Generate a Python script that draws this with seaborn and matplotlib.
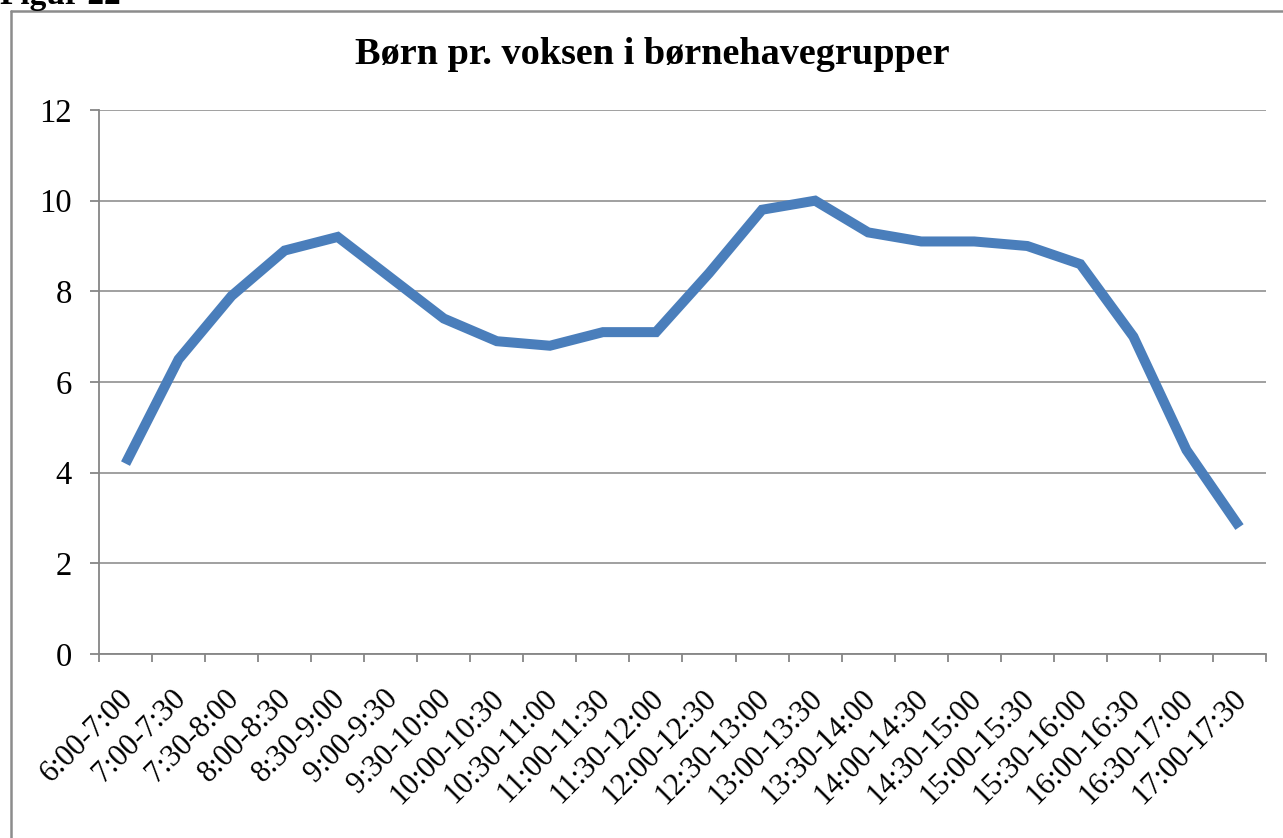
import matplotlib
matplotlib.use("Agg")
import matplotlib.pyplot as plt
import matplotlib.transforms as mtransforms
from matplotlib.lines import Line2D
import numpy as np
import pandas as pd
import seaborn as sns

slots = ["6:00-7:00", "7:00-7:30", "7:30-8:00", "8:00-8:30", "8:30-9:00", "9:00-9:30",
         "9:30-10:00", "10:00-10:30", "10:30-11:00", "11:00-11:30", "11:30-12:00",
         "12:00-12:30", "12:30-13:00", "13:00-13:30", "13:30-14:00", "14:00-14:30",
         "14:30-15:00", "15:00-15:30", "15:30-16:00", "16:00-16:30", "16:30-17:00",
         "17:00-17:30"]
children_per_adult = [4.2, 6.5, 7.9, 8.9, 9.2, 8.3, 7.4, 6.9, 6.8, 7.1, 7.1,
                      8.4, 9.8, 10.0, 9.3, 9.1, 9.1, 9.0, 8.6, 7.0, 4.5, 2.8]
y_ticks = [0, 2, 4, 6, 8, 10, 12]

sns.set_theme(style="white", rc={"text.color": "black", "xtick.color": "black",
                                 "ytick.color": "black"})
plt.rcParams["font.family"] = ["Liberation Serif", "DejaVu Serif"]

W, H = 1283, 838
fig = plt.figure(figsize=(W / 100, H / 100), dpi=100)
fig.patch.set_facecolor("white")
ax = fig.add_axes([99 / W, 1 - 654 / H, (1266 - 99) / W, (654 - 110) / H])

frame = pd.DataFrame({"pos": np.arange(len(slots)), "value": children_per_adult})
sns.lineplot(data=frame, x="pos", y="value", ax=ax, color="#4A7EBB", linewidth=7.2,
             solid_joinstyle="miter", solid_capstyle="butt", sort=False)

grey = "#868686"
ax.set_xlim(-0.5, len(slots) - 0.5)
ax.set_ylim(0, 12)
ax.set_yticks(y_ticks)
ax.yaxis.grid(True, color=grey, linewidth=1.1)
ax.set_axisbelow(True)
for side in ("top", "right"):
    ax.spines[side].set_visible(False)
for side in ("left", "bottom"):
    ax.spines[side].set_color(grey)
    ax.spines[side].set_linewidth(1.3)

ax.set_xticks(np.arange(len(slots) + 1) - 0.5)
ax.set_xticklabels([])
ax.set_xticks(np.arange(len(slots)), minor=True)
ax.set_xticklabels(slots, minor=True, rotation=45, ha="right", va="center",
                   rotation_mode="anchor", fontsize=22)
ax.tick_params(axis="x", which="major", direction="out", length=6, color=grey, width=1.3, bottom=True)
ax.tick_params(axis="x", which="minor", length=0, pad=29, bottom=True)
ax.tick_params(axis="y", direction="out", length=6.5, color=grey, width=1.3, pad=13,
               labelsize=23.5, left=True)
shift = mtransforms.ScaledTranslation(3 / 100, 0, fig.dpi_scale_trans)
for lab in ax.get_xticklabels(minor=True):
    lab.set_transform(lab.get_transform() + shift)
ax.set_xlabel("")
ax.set_ylabel("")

fig.text(652 / W, 1 - 55 / H, "Børn pr. voksen i børnehavegrupper", ha="center", va="center",
         fontsize=27.5, fontweight="bold")
fig.text(0.0, 1 - 4 / H, "Figur 22", ha="left", va="baseline", fontsize=24, fontweight="bold")

# outer chart frame, cut off by the page edges
fig.add_artist(Line2D([11 / W, 11 / W], [1 - 11 / H, 0], transform=fig.transFigure,
                      color="#8c8c8c", linewidth=1.8))
fig.add_artist(Line2D([11 / W, 1], [1 - 11 / H, 1 - 11 / H], transform=fig.transFigure,
                      color="#8c8c8c", linewidth=1.8))

fig.savefig("out.png", dpi=100)
